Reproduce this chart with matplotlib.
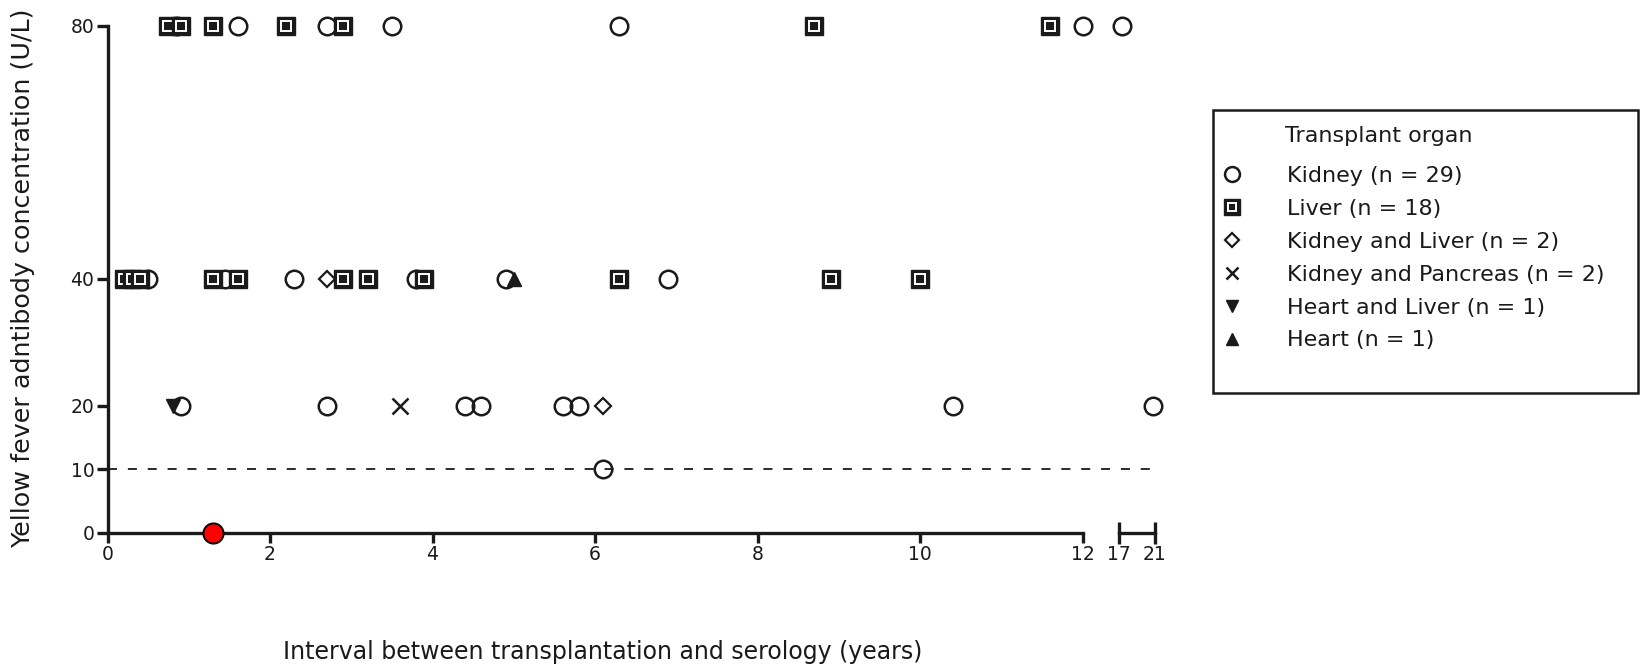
import matplotlib.pyplot as plt
from matplotlib.lines import Line2D
from matplotlib.patches import Rectangle

# Data (years since transplant, antibody titre in U/L)
kidney_x = [0.85, 1.6, 2.7, 3.5, 6.3, 12.0, 17.3,
            0.5, 1.45, 2.3, 3.8, 4.9, 6.9,
            0.9, 2.7, 4.4, 4.6, 5.6, 5.8, 10.4, 20.8,
            6.1]
kidney_y = [80, 80, 80, 80, 80, 80, 80,
            40, 40, 40, 40, 40, 40,
            20, 20, 20, 20, 20, 20, 20, 20,
            10]
liver_x = [0.75, 0.9, 1.3, 2.2, 2.9, 8.7, 11.6,
           0.2, 0.3, 0.4, 1.3, 1.6, 2.9, 3.2, 3.9, 6.3, 8.9, 10.0]
liver_y = [80, 80, 80, 80, 80, 80, 80,
           40, 40, 40, 40, 40, 40, 40, 40, 40, 40, 40]
kidney_liver_x = [2.7, 6.1]
kidney_liver_y = [40, 20]
kidney_pancreas_x = [3.6]
kidney_pancreas_y = [20]
heart_liver_x = [0.8]
heart_liver_y = [20]
heart_x = [5.0]
heart_y = [40]
highlight_x = [1.3]
highlight_y = [0]

organ_names = ["Kidney", "Liver", "Kidney and Liver", "Kidney and Pancreas",
               "Heart and Liver", "Heart"]
organ_counts = [29, 18, 2, 2, 1, 1]

x_ticks_main = [0, 2, 4, 6, 8, 10, 12]
x_ticks_tail = [17, 21]
y_ticks = [0, 10, 20, 40, 80]
threshold = 10

W, H = 1642, 670
INK = "#1a1a1a"

fig = plt.figure(figsize=(W / 100, H / 100), dpi=100)
bottom = 1 - 532.5 / H
height = (532.5 - 25.5) / H
ax1 = fig.add_axes([107.5 / W, bottom, (1082.5 - 107.5) / W, height])
ax2 = fig.add_axes([1119 / W, bottom, (1155 - 1119) / W, height], sharey=ax1)

ax1.set_xlim(0, 12)
ax2.set_xlim(17, 21)
ax1.set_ylim(0, 80)

for ax in (ax1, ax2):
    ax.patch.set_visible(False)
    ax.spines["top"].set_visible(False)
    ax.spines["right"].set_visible(False)
    ax.spines["bottom"].set_linewidth(2.4)
    ax.spines["bottom"].set_color(INK)
ax1.spines["left"].set_linewidth(2.4)
ax1.spines["left"].set_color(INK)
ax2.spines["left"].set_visible(False)

ax1.set_xticks(x_ticks_main)
ax1.set_yticks(y_ticks)
ax1.tick_params(axis="both", direction="out", width=2.4, color=INK,
                labelsize=13.5, labelcolor=INK, pad=1.5)
ax1.tick_params(axis="x", length=7.5)
ax1.tick_params(axis="y", length=8)
# end cap at the break
ax1.set_xticks([12], minor=True)
ax1.tick_params(axis="x", which="minor", direction="inout", length=16, width=2.4, color=INK)

ax2.set_xticks(x_ticks_tail)
ax2.tick_params(axis="x", direction="inout", length=16, width=2.4, color=INK,
                labelsize=13.5, labelcolor=INK, pad=1.0)
ax2.tick_params(axis="y", left=False, labelleft=False)

# dashed threshold across both segments
p1 = ax1.get_position()
p2 = ax2.get_position()
ax1.axhline(threshold, xmin=0, xmax=(p2.x1 - p1.x0) / p1.width, color=INK,
            lw=1.3, dashes=(5, 6), clip_on=False, zorder=1)


def split(xs, ys):
    a = [(x, y) for x, y in zip(xs, ys) if x <= 12]
    b = [(x, y) for x, y in zip(xs, ys) if x > 12]
    return a, b


def draw(xs, ys, **kw):
    for ax, pts in zip((ax1, ax2), split(xs, ys)):
        if pts:
            ax.plot([p[0] for p in pts], [p[1] for p in pts], ls="none",
                    clip_on=False, **kw)


kidney_style = dict(marker="o", ms=12.6, mfc="none", mec=INK, mew=1.8)
kl_style = dict(marker="D", ms=8.2, mfc="white", mec=INK, mew=1.6)
kp_style = dict(marker="x", ms=11, mec=INK, mew=1.8)
hl_style = dict(marker="v", ms=10, mfc=INK, mec=INK, mew=1)
h_style = dict(marker="^", ms=10, mfc=INK, mec=INK, mew=1)
liver_outer = dict(marker="s", ms=13.4, mfc=INK, mec=INK, mew=1)
liver_ring = dict(marker="s", ms=7.4, mfc="none", mec="white", mew=1.4)

draw(kidney_x, kidney_y, zorder=3, **kidney_style)
draw(kidney_liver_x, kidney_liver_y, zorder=4, **kl_style)
draw(kidney_pancreas_x, kidney_pancreas_y, zorder=4, **kp_style)
draw(heart_liver_x, heart_liver_y, zorder=4, **hl_style)
draw(heart_x, heart_y, zorder=4, **h_style)
for i, (x, y) in enumerate(zip(liver_x, liver_y)):
    draw([x], [y], zorder=5 + 0.01 * i, **liver_outer)
    draw([x], [y], zorder=5.005 + 0.01 * i, **liver_ring)
draw(highlight_x, highlight_y, marker="o", ms=14.5, mfc="#ff0000", mec="black",
     mew=1.4, zorder=10)

fig.text(603 / W, 1 - 652 / H, "Interval between transplantation and serology (years)",
         ha="center", va="center", fontsize=17, color=INK)
fig.text(23 / W, 1 - 278 / H, "Yellow fever adntibody concentration (U/L)",
         ha="center", va="center", rotation=90, fontsize=18.3, color=INK)

# legend
fig.add_artist(Rectangle((1213 / W, 1 - 393 / H), 425 / W, 283 / H,
                         transform=fig.transFigure, fill=False, lw=1.8, ec=INK))
fig.text(1285 / W, 1 - 136 / H, "Transplant organ", ha="left", va="center",
         fontsize=16, color=INK)

handles = [
    Line2D([], [], ls="none", **kidney_style),
    (Line2D([], [], ls="none", **liver_outer), Line2D([], [], ls="none", **liver_ring)),
    Line2D([], [], ls="none", **kl_style),
    Line2D([], [], ls="none", **kp_style),
    Line2D([], [], ls="none", **hl_style),
    Line2D([], [], ls="none", **h_style),
]
labels = [f"{name} (n = {n})" for name, n in zip(organ_names, organ_counts)]
fig.legend(handles, labels, loc="upper left", bbox_to_anchor=(1221 / W, 1 - 166 / H),
           frameon=False, fontsize=16, handlelength=1.0, handletextpad=1.95,
           labelspacing=0.58, borderpad=0, borderaxespad=0, markerscale=0.85,
           labelcolor=INK)

fig.savefig("out.png", dpi=100)
